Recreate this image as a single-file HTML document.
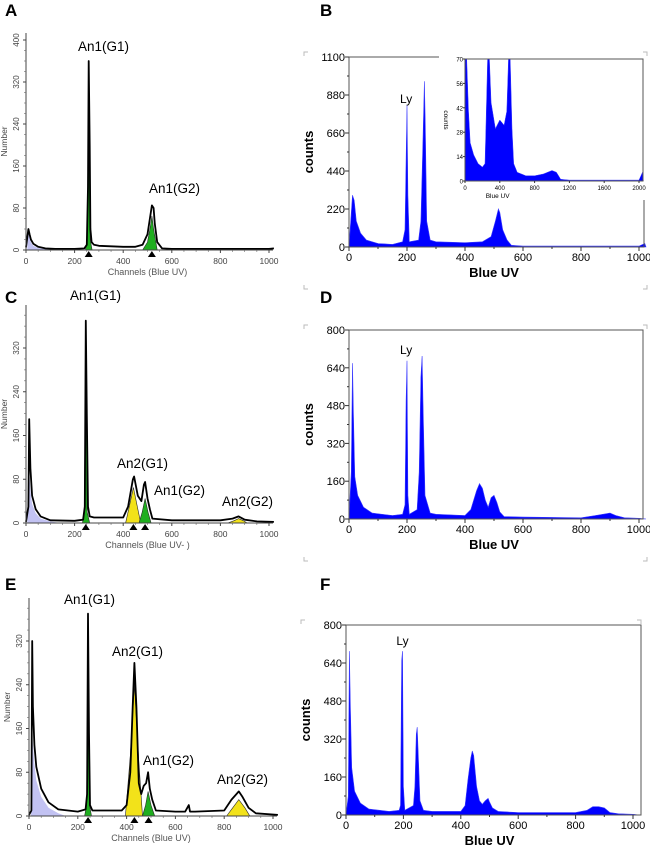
<!DOCTYPE html>
<html><head><meta charset="utf-8">
<style>
html,body{margin:0;padding:0;background:#fff;}
svg{display:block;}
text{font-family:"Liberation Sans",sans-serif;}
</style></head>
<body>
<svg id="fig" width="650" height="848" viewBox="0 0 650 848" xmlns="http://www.w3.org/2000/svg"></svg>
<script>
// ---------- DATA ----------
// Panel A (ModFit, Number)
const aX = [0,10,15,20,30,50,80,120,200,240,250,255,258,262,265,270,280,300,350,400,450,480,500,510,518,525,530,540,560,600,800,1000,1020];
const aY = [5,40,30,20,12,6,3,2,2,3,10,120,360,200,40,15,10,8,7,6,6,10,30,60,85,80,50,15,3,2,2,2,3];
const aDebX = [5,10,15,20,30,50,80,120];
const aDebY = [0,38,25,15,8,4,2,0];
const aG1X = [245,252,258,264,272];
const aG1Y = [0,20,330,20,0];
const aG2X = [480,500,512,518,525,540];
const aG2Y = [0,15,45,65,40,0];
const aMarks = [258,518];

// Panel B (counts)
const bX = [0,8,12,18,25,40,60,100,150,185,193,197,200,203,208,240,248,255,260,263,268,280,300,400,460,490,505,515,520,530,545,560,600,1000,1020,1024];
const bY = [0,200,300,270,150,80,40,20,15,30,100,500,820,300,30,40,150,600,960,700,150,40,30,25,30,60,150,220,200,100,40,10,5,5,20,0];
// Inset of B
const biX = [0,20,40,60,100,150,200,230,240,260,280,300,350,400,450,480,500,520,540,560,600,700,800,900,1000,1050,1100,1200,1600,2000,2040,2050];
const biY = [70,70,40,22,15,10,8,10,30,70,70,45,30,35,32,40,70,70,30,10,5,3,3,4,6,5,1,0.5,0.5,0.5,5,0];

// Panel C
const cX = [0,10,13,18,25,40,60,100,200,235,242,246,250,255,262,280,350,400,420,440,445,460,475,485,490,500,510,520,600,800,850,875,900,950,1020];
const cY = [2,30,190,100,50,25,12,5,4,6,30,370,200,30,12,10,10,10,30,80,85,50,40,70,75,45,25,8,5,5,8,12,6,3,2];
const cDebX = [5,10,13,18,25,40,60,100,140];
const cDebY = [0,80,95,60,35,18,8,3,0];
const cG1X = [232,240,246,252,262];
const cG1Y = [0,20,330,20,0];
const cY1X = [410,425,442,458,472];
const cY1Y = [0,30,65,30,0];
const cG2X = [465,478,490,502,515];
const cG2Y = [0,20,45,20,0];
const cY2X = [830,855,875,895,910];
const cY2Y = [0,4,8,4,0];
const cMarks = [246,442,490];

// Panel D
const dX = [0,8,12,15,20,30,50,80,150,185,193,197,200,203,208,235,242,248,252,256,262,280,300,400,420,440,450,460,470,480,490,500,510,520,535,600,800,850,900,920,950,1000,1024];
const dY = [0,200,660,450,180,100,50,25,15,20,60,500,670,100,20,40,200,600,690,450,100,25,20,15,40,120,150,130,80,50,90,100,70,30,10,8,5,15,25,15,5,3,0];

// Panel E
const eX = [0,10,13,16,22,30,50,80,120,200,232,238,242,246,250,260,300,380,400,415,425,432,440,450,460,470,480,488,495,505,520,600,640,655,660,680,800,830,850,860,875,900,930,1020];
const eY = [2,10,320,200,130,90,50,25,12,8,12,40,370,150,20,10,10,10,20,80,200,280,200,60,40,55,60,80,50,30,10,8,8,20,8,8,10,30,40,45,35,15,5,2];
const eDebX = [8,13,16,22,30,50,80,120,150];
const eDebY = [0,150,130,95,65,35,15,5,0];
const eG1X = [228,236,242,248,256];
const eG1Y = [0,20,330,20,0];
const eY1X = [395,415,432,450,465];
const eY1Y = [0,110,240,100,0];
const eG2X = [465,478,488,500,515];
const eG2Y = [0,20,45,20,0];
const eY2X = [810,835,860,885,905];
const eY2Y = [0,15,30,15,0];
const eMarks = [242,432,490];

// Panel F
const fX = [0,8,12,15,20,30,50,80,150,185,190,194,197,200,205,235,240,245,248,252,258,270,300,400,415,425,435,440,445,455,465,475,485,495,500,510,530,600,800,840,860,880,900,920,950,1000,1024];
const fY = [0,80,690,470,200,100,50,25,15,20,40,650,690,120,20,40,120,340,370,250,60,20,15,15,40,150,240,270,250,120,60,45,60,70,55,30,15,10,10,20,35,35,30,10,5,3,0];

const leftTicksY = [0,80,160,240,320,400];
const xTicks = [0,200,400,600,800,1000];
const bTicksY = [0,220,440,660,880,1100];
const dTicksY = [0,160,320,480,640,800];
const insetTicksY = [0,14,28,42,56,70];
const insetTicksX = [0,400,800,1200,1600,2000];

// ---------- DRAWING ----------
const NS = "http://www.w3.org/2000/svg";
const svg = document.getElementById('fig');
function el(tag, attrs, parent){
  const e = document.createElementNS(NS, tag);
  for (const k in attrs) e.setAttribute(k, attrs[k]);
  (parent||svg).appendChild(e);
  return e;
}
function scale(d0,d1,r0,r1){ return v => r0 + (v-d0)/(d1-d0)*(r1-r0); }
function pathFrom(xs, ys, sx, sy){
  let d = '';
  for (let i=0;i<xs.length;i++){ d += (i?'L':'M') + sx(xs[i]).toFixed(1) + ' ' + sy(ys[i]).toFixed(1); }
  return d;
}
function areaFrom(xs, ys, sx, sy, base){
  return pathFrom(xs, ys, sx, sy) + 'L' + sx(xs[xs.length-1]).toFixed(1) + ' ' + base + 'L' + sx(xs[0]).toFixed(1) + ' ' + base + 'Z';
}
function txt(x,y,s,attrs,parent){
  const t = el('text', Object.assign({x:x,y:y}, attrs||{}), parent);
  t.textContent = s;
  return t;
}

function panelLetter(x,y,s){
  const t = txt(x,y,s,{'font-size':17,'font-weight':'bold'});
  
  
}

// Left-panel (ModFit) chart
function modfit(cfg){
  const g = el('g',{});
  
  
  const sx = scale(0,1000,cfg.x0,cfg.x1);
  const sy = scale(0,80,cfg.y0,cfg.y0-cfg.per80);
  const deb = el('path',{d:areaFrom(cfg.debX,cfg.debY,sx,sy,cfg.y0),fill:'#c2c2f2',stroke:'none'},g);
  
  
  cfg.fills.forEach(f=>{
    const p = el('path',{d:areaFrom(f.x,f.y,sx,sy,cfg.y0),fill:f.c,stroke:'#2a2a2a','stroke-width':0.6},g);
    
    
  });
  const h = el('path',{d:pathFrom(cfg.xs,cfg.ys,sx,sy),fill:'none',stroke:'#000','stroke-width':1.8,'stroke-linejoin':'round'},g);
  
  
  const ax = el('path',{d:`M${cfg.x0} ${cfg.top}V${cfg.y0}H${cfg.x1+4}`,stroke:'#444','stroke-width':1,fill:'none'},g);
  
  
  leftTicksY.forEach(v=>{
    const y = sy(v);
    if (y < cfg.top+3) return;
    el('line',{x1:cfg.x0-3,x2:cfg.x0,y1:y,y2:y,stroke:'#444'},g);
    for (let m=1;m<4;m++){ const ym = sy(v+m*20); if (ym>cfg.top) el('line',{x1:cfg.x0-2,x2:cfg.x0,y1:ym,y2:ym,stroke:'#666','stroke-width':0.6},g); }
    const t = txt(cfg.x0-7, y, String(v), {'font-size':8,fill:'#444','text-anchor':'middle',transform:`rotate(-90 ${cfg.x0-7} ${y})`},g);
    
    
  });
  xTicks.forEach(v=>{
    const x = sx(v);
    el('line',{x1:x,x2:x,y1:cfg.y0,y2:cfg.y0+3,stroke:'#444'},g);
    for (let m=1;m<4;m++){ const xm = sx(v+m*50); if (v<1000) el('line',{x1:xm,x2:xm,y1:cfg.y0,y2:cfg.y0+2,stroke:'#666','stroke-width':0.6},g); }
    const t = txt(x, cfg.y0+14, String(v), {'font-size':8.5,fill:'#444','text-anchor':'middle'},g);
    
    
  });
  const xt = txt((cfg.x0+cfg.x1)/2, cfg.y0+25, cfg.xtitle, {'font-size':9,fill:'#555','text-anchor':'middle'},g);
  
  
  const ytx = cfg.x0-19, yty = (cfg.top+cfg.y0)/2;
  const yt = txt(ytx, yty, 'Number', {'font-size':8.5,fill:'#444','text-anchor':'middle',transform:`rotate(-90 ${ytx} ${yty})`},g);
  
  
  cfg.marks.forEach(v=>{
    const x = sx(v);
    const m = el('path',{d:`M${x-4} ${cfg.y0+7}L${x+4} ${cfg.y0+7}L${x} ${cfg.y0+1}Z`,fill:'#000'},g);
    
    
  });
  cfg.labels.forEach(l=>{
    const t = txt(l.x,l.y,l.s,{'font-size':13.5,fill:'#000'},g);
    
    
  });
}

// Right-panel (blue histogram) chart
function bluehist(cfg){
  const g = el('g',{});
  
  
  const sx = scale(0,1000,cfg.x0,cfg.x1);
  const sy = scale(0,cfg.ymax,cfg.y0,cfg.top);
  const a = el('path',{d:areaFrom(cfg.xs,cfg.ys,sx,sy,cfg.y0),fill:'#0000ff',stroke:'#3a3aff','stroke-width':0.6},g);
  
  
  const fr = el('path',{d:cfg.frame,stroke:'#555','stroke-width':1,fill:'none'},g);
  
  
  cfg.ticks.forEach(v=>{
    const y = sy(v);
    el('line',{x1:cfg.x0-4,x2:cfg.x0,y1:y,y2:y,stroke:'#333'},g);
    const ym = sy(v+cfg.ymax/10); if (v<cfg.ymax) el('line',{x1:cfg.x0-2,x2:cfg.x0,y1:ym,y2:ym,stroke:'#333'},g);
    const t = txt(cfg.x0-4, y+4, String(v), {'font-size':11,fill:'#000','text-anchor':'end'},g);
    
    
  });
  xTicks.forEach(v=>{
    const x = sx(v);
    el('line',{x1:x,x2:x,y1:cfg.y0,y2:cfg.y0+4,stroke:'#333'},g);
    if (v<1000){ const xm = sx(v+100); el('line',{x1:xm,x2:xm,y1:cfg.y0,y2:cfg.y0+2,stroke:'#333'},g); }
    const t = txt(x, cfg.y0+14, String(v), {'font-size':11,fill:'#000','text-anchor':'middle'},g);
    
    
  });
  const xt = txt((cfg.x0+cfg.x1)/2, cfg.y0+30, 'Blue UV', {'font-size':13,'font-weight':'bold','text-anchor':'middle'},g);
  
  
  const ytx = cfg.x0-36, yty = (cfg.top+cfg.y0)/2;
  const yt = txt(ytx, yty, 'counts', {'font-size':13,'font-weight':'bold','text-anchor':'middle',transform:`rotate(-90 ${ytx} ${yty})`},g);
  
  
  const ly = txt(sx(cfg.lyX), cfg.lyY, 'Ly', {'font-size':12,'text-anchor':'middle'},g);
  
  
  [[cfg.x0-45,cfg.top-5,1,1],[cfg.x1+8,cfg.top-5,-1,1],[cfg.x0-45,cfg.y0+42,1,-1],[cfg.x1+8,cfg.y0+42,-1,-1]].forEach(c=>{
    el('path',{d:`M${c[0]} ${c[1]+4*c[3]}V${c[1]}H${c[0]+4*c[2]}`,stroke:'#bbb',fill:'none','stroke-width':1},g);
  });
}

panelLetter(5,16,'A'); panelLetter(320,16,'B');
panelLetter(5,303,'C'); panelLetter(320,303,'D');
panelLetter(5,590,'E'); panelLetter(320,590,'F');

modfit({name:'panel-a-chart',x0:26,x1:269,y0:250,per80:42,top:33,xs:aX,ys:aY,debX:aDebX,debY:aDebY,
  fills:[{x:aG1X,y:aG1Y,c:'#1fae1f',n:'an1-g1-fill'},{x:aG2X,y:aG2Y,c:'#1fae1f',n:'an1-g2-fill'}],
  marks:aMarks,xtitle:'Channels (Blue UV)',
  labels:[{x:78,y:51,s:'An1(G1)'},{x:149,y:193,s:'An1(G2)'}]});

modfit({name:'panel-c-chart',x0:26,x1:269,y0:523,per80:43.75,top:305,xs:cX,ys:cY,debX:cDebX,debY:cDebY,
  fills:[{x:cG1X,y:cG1Y,c:'#1fae1f',n:'an1-g1-fill'},{x:cY1X,y:cY1Y,c:'#f2e21a',n:'an2-g1-fill'},{x:cG2X,y:cG2Y,c:'#1fae1f',n:'an1-g2-fill'},{x:cY2X,y:cY2Y,c:'#f2e21a',n:'an2-g2-fill'}],
  marks:cMarks,xtitle:'Channels (Blue UV- )',
  labels:[{x:70,y:300,s:'An1(G1)'},{x:117,y:468,s:'An2(G1)'},{x:154,y:495,s:'An1(G2)'},{x:222,y:506,s:'An2(G2)'}]});

modfit({name:'panel-e-chart',x0:29,x1:273,y0:816,per80:43.75,top:598,xs:eX,ys:eY,debX:eDebX,debY:eDebY,
  fills:[{x:eG1X,y:eG1Y,c:'#1fae1f',n:'an1-g1-fill'},{x:eY1X,y:eY1Y,c:'#f2e21a',n:'an2-g1-fill'},{x:eG2X,y:eG2Y,c:'#1fae1f',n:'an1-g2-fill'},{x:eY2X,y:eY2Y,c:'#f2e21a',n:'an2-g2-fill'}],
  marks:eMarks,xtitle:'Channels (Blue UV)',
  labels:[{x:64,y:604,s:'An1(G1)'},{x:112,y:656,s:'An2(G1)'},{x:143,y:765,s:'An1(G2)'},{x:217,y:784,s:'An2(G2)'}]});

bluehist({name:'panel-b-chart',x0:349,x1:639,y0:247,top:57,ymax:1100,xs:bX,ys:bY,ticks:bTicksY,lyX:197,lyY:103,
  frame:'M439 57H349V247H644V200'});
bluehist({name:'panel-d-chart',x0:349,x1:639,y0:519,top:330,ymax:800,xs:dX,ys:dY,ticks:dTicksY,lyX:197,lyY:354,
  frame:'M349 330H643V519H349Z'});
bluehist({name:'panel-f-chart',x0:346,x1:633,y0:815,top:625,ymax:800,xs:fX,ys:fY,ticks:dTicksY,lyX:197,lyY:645,
  frame:'M346 625H641V815H346Z'});

// Inset in B
(function(){
  const g = el('g',{});
  
  
  const x0=465,x1=639,y0=181,top=59;
  const sx = scale(0,2000,x0,x1), sy = scale(0,70,y0,top);
  el('rect',{x:x0,y:top-1,width:643-x0,height:y0-top+1,fill:'#fff'},g);
  const a = el('path',{d:areaFrom(biX,biY,sx,sy,y0),fill:'#0000ff',stroke:'#3a3aff','stroke-width':0.5},g);
  
  
  const fr = el('rect',{x:x0,y:top,width:643-x0,height:y0-top,fill:'none',stroke:'#555'},g);
  
  
  insetTicksY.forEach(v=>{
    const y=sy(v);
    el('line',{x1:x0-2,x2:x0,y1:y,y2:y,stroke:'#333'},g);
    const t = txt(x0-2,y+2.5,String(v),{'font-size':6,'text-anchor':'end'},g);
    
    
  });
  insetTicksX.forEach(v=>{
    const x=sx(v);
    el('line',{x1:x,x2:x,y1:y0,y2:y0+2,stroke:'#333'},g);
    const t = txt(x,y0+9,String(v),{'font-size':6,'text-anchor':'middle'},g);
    
    
  });
  const xt = txt(sx(260)+10,y0+17,'Blue UV',{'font-size':6.5,'text-anchor':'middle'},g);
  
  
  const yt = txt(444,120,'counts',{'font-size':6.5,'text-anchor':'middle',transform:'rotate(90 444 120)'},g);
  
  
})();
</script>
</body></html>
